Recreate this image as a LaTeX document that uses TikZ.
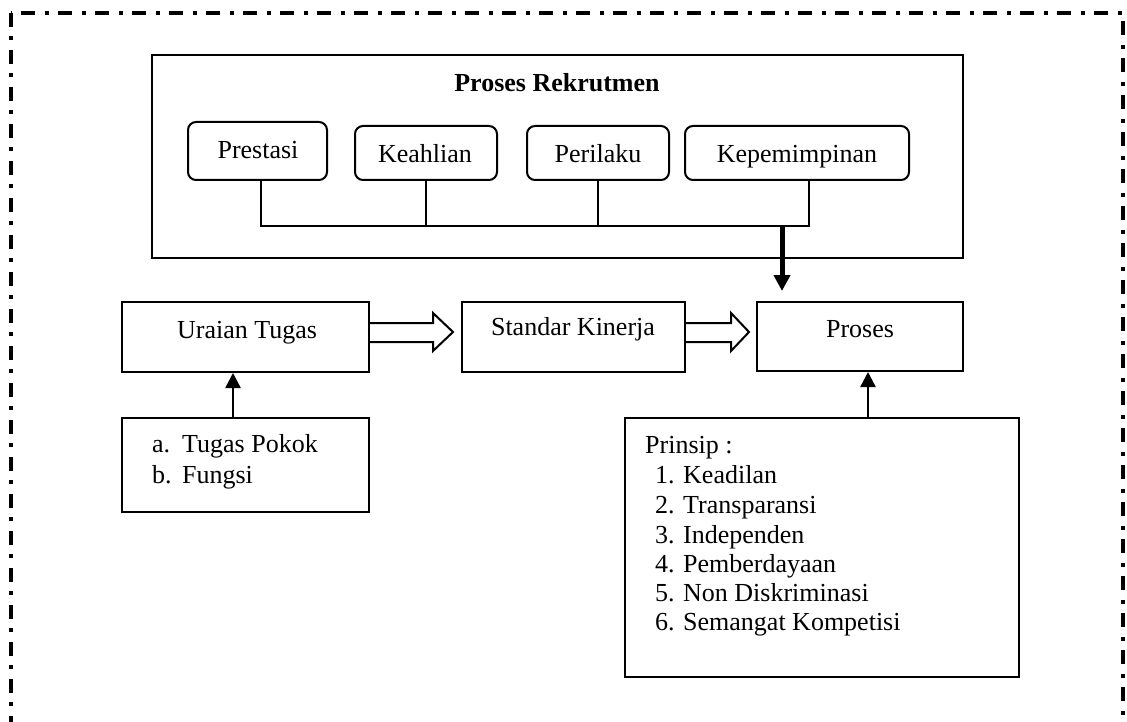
\documentclass[tikz,border=0pt]{standalone}
\usepackage{fontspec}
\setmainfont{Liberation Serif}
\usetikzlibrary{arrows.meta}
\begin{document}
\begin{tikzpicture}[x=1pt,y=-1pt,
  box/.style={draw, line width=2pt, rectangle, inner sep=0pt},
  rbox/.style={box, rounded corners=8pt},
  txt/.style={inner sep=0pt, font=\fontsize{26}{30}\selectfont},
  conn/.style={line width=2pt},
  arr/.style={line width=2.4pt, -{Triangle[width=15pt,length=15pt]}},
  bigarr/.style={line width=5pt, -{Triangle[width=16pt,length=16pt]}},
  hollow/.style={line width=2pt, fill=white, line join=miter},
  border/.style={line width=3.5pt, dash pattern=on 14pt off 9pt on 4pt off 10pt}
]
\useasboundingbox (0,0) rectangle (1127,722);
\begin{scope}
\clip (0,0) rectangle (1127,722);
\draw[border] (11,13) rectangle (1123,800);
\end{scope}

% Proses Rekrutmen group
\node[box, minimum width=811pt, minimum height=203pt] (rek) at (557.5,156.5) {};
\node[txt, anchor=base, font=\fontsize{26}{30}\selectfont\bfseries] (rekt) at (557,92) {Proses Rekrutmen};

\node[rbox, minimum width=139pt, minimum height=58pt] (pre) at (257.5,151) {};
\node[txt, anchor=base] (pret) at (258,159) {Prestasi};
\node[rbox, minimum width=142pt, minimum height=54pt] (kea) at (426,153) {};
\node[txt, anchor=base] (keat) at (425,163) {Keahlian};
\node[rbox, minimum width=142pt, minimum height=54pt] (per) at (598,153) {};
\node[txt, anchor=base] (pert) at (598,163) {Perilaku};
\node[rbox, minimum width=224pt, minimum height=54pt] (kep) at (797,153) {};
\node[txt, anchor=base] (kept) at (797,163) {Kepemimpinan};

\coordinate (jn) at (809,226);
\coordinate (jl) at (261,226);
\draw[conn] ([xshift=3.5pt]pre.south) -- (jl) -- (jn) -- (jn |- kep.south);
\draw[conn] (kea.south) -- (kea.south |- jn);
\draw[conn] (per.south) -- (per.south |- jn);

\coordinate (ta) at (782,226);
\coordinate (tb) at (782,291);
\draw[bigarr] (ta) -- (tb);

% middle row
\node[box, minimum width=247pt, minimum height=70pt] (ut) at (245.5,337) {};
\node[txt, anchor=base] (utt) at (247,338) {Uraian Tugas};
\node[box, minimum width=223pt, minimum height=70pt] (sk) at (573.5,337) {};
\node[txt, anchor=base] (skt) at (573,335) {Standar Kinerja};
\node[box, minimum width=206pt, minimum height=69pt] (pr) at (860,336.5) {};
\node[txt, anchor=base] (prt) at (860,337) {Proses};

\draw[hollow] (ut.east) ++(0,-14) -- ++(63,0) -- ++(0,-10) -- ++(20,19) -- ++(-20,19) -- ++(0,-9) -- ++(-63,0);
\draw[hollow] (sk.east) ++(0,-14) -- ++(45,0) -- ++(0,-10) -- ++(18,19) -- ++(-18,19) -- ++(0,-9) -- ++(-45,0);

% bottom boxes
\node[box, minimum width=247pt, minimum height=94pt] (tg) at (245.5,465) {};
\node[txt, anchor=base west] (tg1) at (152,452) {\makebox[30pt][l]{a.}Tugas Pokok};
\node[txt, anchor=base west] (tg2) at (152,483) {\makebox[30pt][l]{b.}Fungsi};

\node[box, minimum width=394pt, minimum height=259pt] (pa) at (822,547.5) {};
\node[txt, anchor=base west] (p0) at (645,453) {Prinsip :};
\node[txt, anchor=base west] (p1) at (655,483) {\makebox[28pt][l]{1.}Keadilan};
\node[txt, anchor=base west] (p2) at (655,513) {\makebox[28pt][l]{2.}Transparansi};
\node[txt, anchor=base west] (p3) at (655,543) {\makebox[28pt][l]{3.}Independen};
\node[txt, anchor=base west] (p4) at (655,572) {\makebox[28pt][l]{4.}Pemberdayaan};
\node[txt, anchor=base west] (p5) at (655,601) {\makebox[28pt][l]{5.}Non Diskriminasi};
\node[txt, anchor=base west] (p6) at (655,630) {\makebox[28pt][l]{6.}Semangat Kompetisi};

\draw[arr] ([xshift=-12.5pt]tg.north) -- ([xshift=-12.5pt]ut.south);
\draw[arr] ([xshift=46pt]pa.north) -- ([xshift=46pt]pa.north |- pr.south);
\end{tikzpicture}
\end{document}
